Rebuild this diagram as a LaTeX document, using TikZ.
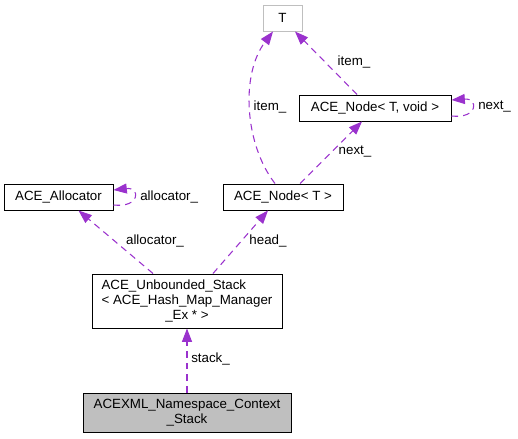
\documentclass[tikz,border=0pt]{standalone}
\usepackage{fontspec}
\setmainfont{Liberation Sans}
\usetikzlibrary{arrows.meta,calc}
\definecolor{edgec}{HTML}{9A32CD}
\definecolor{grayfill}{HTML}{BFBFBF}
\begin{document}
\begin{tikzpicture}[x=0.75pt,y=-0.75pt,
  every node/.style={font=\fontsize{10}{11.25}\selectfont},
  box/.style={draw=black,line width=0.75pt,inner sep=0pt,minimum height=19.5pt,fill=white},
  rel/.style={draw=edgec,line width=0.8pt,dash pattern=on 5pt off 3.75pt,-{Triangle[length=10pt,width=7.5pt]}},
  lbl/.style={inner sep=0pt}]
\useasboundingbox (0,0) rectangle (518,439);
% nodes
\node[box,draw=grayfill,minimum width=29.25pt] (t) at (282.5,18) {T};
\node[box,minimum width=114pt] (ntv) at (375,108) {ACE\_Node< T, void >};
\node[box,minimum width=90pt] (nt) at (283,197) {ACE\_Node< T >};
\node[box,minimum width=81.75pt] (al) at (58.5,197) {ACE\_Allocator};
\node[box,minimum width=142.5pt,minimum height=40.5pt] (us) at (187,301) {};
\node[inner sep=0pt] (ust) at (us) {\begin{tabular}{@{}l@{}}ACE\_Unbounded\_Stack\\< ACE\_Hash\_Map\_Manager\\\multicolumn{1}{@{}c@{}}{\_Ex * >}\end{tabular}};
\node[box,fill=grayfill,minimum width=156pt,minimum height=29.25pt,align=center] (xml) at (187,412.5) {ACEXML\_Namespace\_Context\\\_Stack};
% edges
\draw[rel] (xml.north) -- (us.south);
\draw[rel] ($(us.north)+(-34,0)$) -- ($(al.south)+(20,0)$);
\draw[rel] ($(us.north)+(26,0)$) -- ($(nt.south)+(-15,0)$);
\draw[rel] ($(al.east)+(0,8)$) .. controls ($(al.east)+(27,11)$) and ($(al.east)+(27,-10)$) .. ($(al.east)+(0,-7)$);
\draw[rel] ($(nt.north)+(17,0)$) -- ($(ntv.south)+(-13,0)$);
\draw[rel] ($(nt.north)+(-8,0)$) .. controls (245,145) and (240,75) .. ($(t.south)+(-9.5,0)$);
\draw[rel] ($(ntv.north)+(-18,0)$) -- ($(t.south)+(12.5,0)$);
\draw[rel] ($(ntv.east)+(0,8)$) .. controls ($(ntv.east)+(27,11)$) and ($(ntv.east)+(27,-10)$) .. ($(ntv.east)+(0,-8)$);
% labels
\node[lbl,anchor=west] (l1) at (191,359) {stack\_};
\node[lbl] (l2) at (155,241) {allocator\_};
\node[lbl] (l3) at (268,241) {head\_};
\node[lbl,anchor=west] (l4) at (140,197) {allocator\_};
\node[lbl] (l5) at (355,152) {next\_};
\node[lbl] (l6) at (270,107) {item\_};
\node[lbl] (l7) at (354,62) {item\_};
\node[lbl,anchor=west] (l8) at (478,107) {next\_};
\end{tikzpicture}
\end{document}
